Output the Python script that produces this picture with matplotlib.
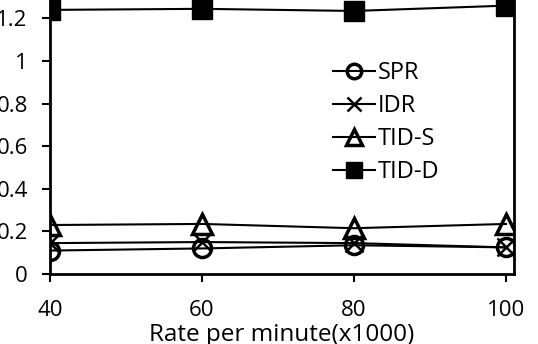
import matplotlib.pyplot as plt

# values
rate = [40, 60, 80, 100]
spr = [0.11, 0.12, 0.135, 0.125]
idr = [0.145, 0.15, 0.145, 0.125]
tid_s = [0.23, 0.235, 0.215, 0.235]
tid_d = [1.24, 1.245, 1.235, 1.26]
y_ticks = [0, 0.2, 0.4, 0.6, 0.8, 1, 1.2, 1.4]
y_labels = ["0", "0.2", "0.4", "0.6", "0.8", "1", "1.2", "1.4"]

plt.rcParams['font.family'] = ['Open Sans', 'DejaVu Sans']

fig = plt.figure(figsize=(5.38, 3.44), dpi=100)
# the original picture is cropped at top and left, so the axes run past the edge
ax = fig.add_axes([0.0929, 0.2035, 0.8625, 0.8668])

ax.plot(rate, spr, color='black', lw=1.5, marker='o', ms=13,
        mfc='none', mec='black', mew=2.5, label='SPR')
ax.plot(rate, idr, color='black', lw=1.5, marker='x', ms=13,
        mec='black', mew=1.8, label='IDR')
ax.plot(rate, tid_s, color='black', lw=1.5, marker='^', ms=14,
        mfc='none', mec='black', mew=2.5, label='TID-S')
ax.plot(rate, tid_d, color='black', lw=1.5, marker='s', ms=15,
        mfc='black', mec='black', label='TID-D')

ax.set_xlim(40, 101.05)
ax.set_ylim(0, 1.4)
ax.set_xticks(rate)
ax.set_xticklabels([str(r) for r in rate])
ax.set_yticks(y_ticks)
ax.set_yticklabels(y_labels)
ax.tick_params(axis='y', direction='out', length=6, width=1.5, pad=10, labelsize=16)
ax.tick_params(axis='x', direction='out', length=6, width=1.5, pad=13, labelsize=16)

for side in ['left', 'bottom', 'right', 'top']:
    ax.spines[side].set_linewidth(2)
    ax.spines[side].set_color('black')

ax.set_xlabel("Rate per minute(x1000)", fontsize=17.5, labelpad=1)

ax.legend(loc='upper left', bbox_to_anchor=(0.59, 0.745), frameon=False,
          fontsize=17, handlelength=1.75, handletextpad=0.15,
          labelspacing=0.38, borderaxespad=0, markerscale=0.8)

fig.savefig("out.png", dpi=100)
